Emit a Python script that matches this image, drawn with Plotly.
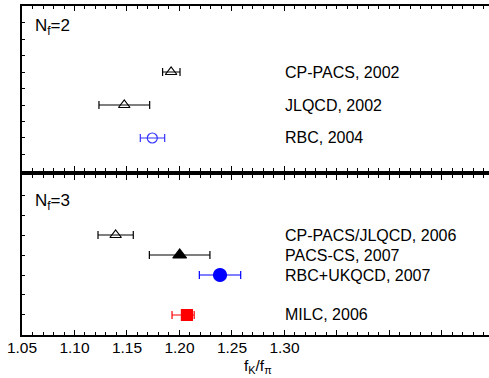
import plotly.graph_objects as go

# ---- data ----
top_labels = ["CP-PACS, 2002", "JLQCD, 2002", "RBC, 2004"]
top_vals = [1.192, 1.1474, 1.1741]
top_lo = [1.1839, 1.1233, 1.1627]
top_hi = [1.2005, 1.1716, 1.1859]
top_pos = [4, 6, 8]
top_symbols = ["triangle-up-open", "triangle-up-open", "circle-open"]
top_colors = ["black", "black", "#3333ff"]
top_sizes = [10, 10, 10]

bot_labels = ["CP-PACS/JLQCD, 2006", "PACS-CS, 2007", "RBC+UKQCD, 2007", "MILC, 2006"]
bot_vals = [1.1392, 1.2002, 1.2386, 1.2071]
bot_lo = [1.1224, 1.1713, 1.2189, 1.1929]
bot_hi = [1.156, 1.229, 1.2583, 1.214]
bot_pos = [3, 4, 5, 7]
bot_symbols = ["triangle-up-open", "triangle-up", "circle", "square"]
bot_colors = ["black", "black", "#0000ff", "#ff0000"]
bot_sizes = [10, 12, 13, 11]

major_ticks = [1.05, 1.10, 1.15, 1.20, 1.25, 1.30, 1.35, 1.40, 1.45]
major_text = ["1.05", "1.10", "1.15", "1.20", "1.25", "1.30", "", "", ""]

FONT = "Liberation Sans, Arial, sans-serif"

fig = go.Figure()

def add_points(labels, vals, lo, hi, pos, symbols, colors, sizes, xa, ya):
    for lab, v, l, h, p, s, c, sz in zip(labels, vals, lo, hi, pos, symbols, colors, sizes):
        fig.add_trace(go.Scatter(
            x=[v], y=[p], mode="markers", xaxis=xa, yaxis=ya,
            marker=dict(symbol=s, size=sz, color=c, line=dict(color=c, width=1.2)),
            error_x=dict(type="data", symmetric=False, array=[h - v], arrayminus=[v - l],
                         color=c, thickness=1.2, width=4),
            showlegend=False, hoverinfo="skip"))
        fig.add_annotation(x=1.2986, y=p, xref=xa, yref=ya, text=lab, showarrow=False,
                           xanchor="left", yanchor="middle",
                           font=dict(family=FONT, size=16, color="black"))

add_points(top_labels, top_vals, top_lo, top_hi, top_pos, top_symbols, top_colors, top_sizes, "x", "y")
add_points(bot_labels, bot_vals, bot_lo, bot_hi, bot_pos, bot_symbols, bot_colors, bot_sizes, "x2", "y2")

xcommon = dict(range=[1.05, 1.4948], showline=True, linewidth=2, linecolor="black",
               mirror="allticks", ticks="inside", ticklen=5, tickwidth=1, tickcolor="black",
               tickvals=major_ticks, ticktext=major_text, showgrid=False, zeroline=False,
               ticklabelstandoff=-3,
               minor=dict(ticks="inside", ticklen=3, tickwidth=1, tickcolor="black",
                          dtick=0.01, tick0=1.05, showgrid=False),
               tickfont=dict(family=FONT, size=15.5, color="black"))
ycommon = dict(showline=True, linewidth=2, linecolor="black", mirror=False,
               ticks="inside", ticklen=3, tickwidth=1, tickcolor="black",
               showticklabels=False, showgrid=False, zeroline=False)

fig.update_layout(
    width=489, height=378,
    margin=dict(l=22, r=0, t=6, b=43),
    paper_bgcolor="white", plot_bgcolor="white",
    xaxis=dict(anchor="y", showticklabels=False, **xcommon),
    xaxis2=dict(anchor="y2", showticklabels=True, **xcommon),
    yaxis=dict(domain=[0.4985, 1], range=[10, 0], tickvals=list(range(1, 10)), **ycommon),
    yaxis2=dict(domain=[0, 0.4863], range=[8, 0], tickvals=list(range(1, 8)), **ycommon),
)

fig.add_annotation(x=1.0605, y=1.3, xref="x", yref="y", text="N<sub>f</sub>=2", showarrow=False,
                   xanchor="left", yanchor="middle", font=dict(family=FONT, size=17, color="black"))
fig.add_annotation(x=1.0605, y=1.35, xref="x2", yref="y2", text="N<sub>f</sub>=3", showarrow=False,
                   xanchor="left", yanchor="middle", font=dict(family=FONT, size=17, color="black"))
fig.add_annotation(x=0.505, y=-0.097, xref="paper", yref="paper", text="f<sub>K</sub>/f<sub>π</sub>",
                   showarrow=False, xanchor="center", yanchor="middle",
                   font=dict(family=FONT, size=15.5, color="black"))

fig.write_html("out.html")
